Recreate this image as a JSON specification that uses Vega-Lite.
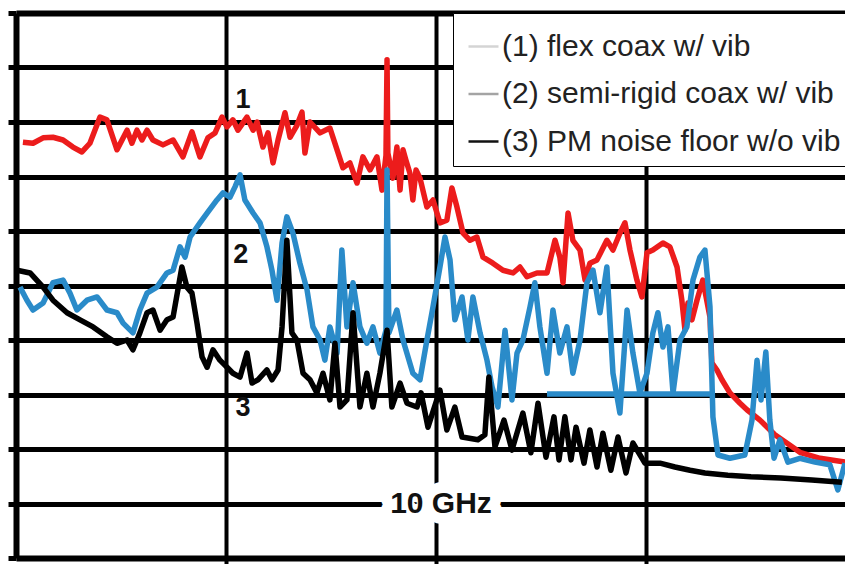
{
  "$schema": "https://vega.github.io/schema/vega-lite/v6.json",
  "width": 829,
  "height": 545,
  "autosize": "none",
  "padding": {"left": 16, "top": 13, "right": 0, "bottom": 6},
  "background": "white",
  "config": {"view": {"stroke": null}, "font": "Liberation Sans"},
  "datasets": {
    "curves": [
      {"s":"1","x":0.033,"y":-103.7},{"s":"1","x":0.081,"y":-103.9},{"s":"1","x":0.129,"y":-102.9},{"s":"1","x":0.176,"y":-102.8},{"s":"1","x":0.224,"y":-103.3},{"s":"1","x":0.271,"y":-104.6},{"s":"1","x":0.314,"y":-105.5},{"s":"1","x":0.352,"y":-103.9},{"s":"1","x":0.400,"y":-99.1},{"s":"1","x":0.433,"y":-99.6},{"s":"1","x":0.481,"y":-105.1},{"s":"1","x":0.529,"y":-101.5},{"s":"1","x":0.552,"y":-103.9},{"s":"1","x":0.576,"y":-101.5},{"s":"1","x":0.600,"y":-103.3},{"s":"1","x":0.624,"y":-101.5},{"s":"1","x":0.652,"y":-103.3},{"s":"1","x":0.700,"y":-104.2},{"s":"1","x":0.748,"y":-103.3},{"s":"1","x":0.795,"y":-106.4},{"s":"1","x":0.838,"y":-101.8},{"s":"1","x":0.876,"y":-106.4},{"s":"1","x":0.914,"y":-102.9},{"s":"1","x":0.948,"y":-102.0},{"s":"1","x":0.981,"y":-99.1},{"s":"1","x":1.005,"y":-100.9},{"s":"1","x":1.033,"y":-99.6},{"s":"1","x":1.057,"y":-101.5},{"s":"1","x":1.100,"y":-99.1},{"s":"1","x":1.129,"y":-101.5},{"s":"1","x":1.148,"y":-100.0},{"s":"1","x":1.176,"y":-104.6},{"s":"1","x":1.200,"y":-102.0},{"s":"1","x":1.224,"y":-107.5},{"s":"1","x":1.248,"y":-103.3},{"s":"1","x":1.281,"y":-98.3},{"s":"1","x":1.305,"y":-102.8},{"s":"1","x":1.338,"y":-100.6},{"s":"1","x":1.362,"y":-98.2},{"s":"1","x":1.376,"y":-105.7},{"s":"1","x":1.400,"y":-100.0},{"s":"1","x":1.448,"y":-102.0},{"s":"1","x":1.495,"y":-101.1},{"s":"1","x":1.529,"y":-105.1},{"s":"1","x":1.557,"y":-108.4},{"s":"1","x":1.590,"y":-107.5},{"s":"1","x":1.624,"y":-111.2},{"s":"1","x":1.652,"y":-106.4},{"s":"1","x":1.686,"y":-108.8},{"s":"1","x":1.719,"y":-106.4},{"s":"1","x":1.743,"y":-112.5},{"s":"1","x":1.762,"y":-106.1},{"s":"1","x":1.767,"y":-88.6},{"s":"1","x":1.771,"y":-105.7},{"s":"1","x":1.795,"y":-110.3},{"s":"1","x":1.814,"y":-104.6},{"s":"1","x":1.829,"y":-112.5},{"s":"1","x":1.843,"y":-105.1},{"s":"1","x":1.857,"y":-107.0},{"s":"1","x":1.876,"y":-109.4},{"s":"1","x":1.890,"y":-114.3},{"s":"1","x":1.905,"y":-108.8},{"s":"1","x":1.924,"y":-110.3},{"s":"1","x":1.957,"y":-115.6},{"s":"1","x":1.986,"y":-114.3},{"s":"1","x":2.019,"y":-118.5},{"s":"1","x":2.052,"y":-118.0},{"s":"1","x":2.076,"y":-112.1},{"s":"1","x":2.100,"y":-115.6},{"s":"1","x":2.129,"y":-120.4},{"s":"1","x":2.162,"y":-121.7},{"s":"1","x":2.195,"y":-121.1},{"s":"1","x":2.224,"y":-124.8},{"s":"1","x":2.271,"y":-125.9},{"s":"1","x":2.319,"y":-127.2},{"s":"1","x":2.367,"y":-127.7},{"s":"1","x":2.400,"y":-126.6},{"s":"1","x":2.433,"y":-128.4},{"s":"1","x":2.481,"y":-127.7},{"s":"1","x":2.529,"y":-127.7},{"s":"1","x":2.567,"y":-121.7},{"s":"1","x":2.590,"y":-124.8},{"s":"1","x":2.605,"y":-129.5},{"s":"1","x":2.629,"y":-116.7},{"s":"1","x":2.652,"y":-121.7},{"s":"1","x":2.686,"y":-123.5},{"s":"1","x":2.710,"y":-129.0},{"s":"1","x":2.733,"y":-125.9},{"s":"1","x":2.767,"y":-125.3},{"s":"1","x":2.814,"y":-121.7},{"s":"1","x":2.843,"y":-123.5},{"s":"1","x":2.876,"y":-120.4},{"s":"1","x":2.900,"y":-118.5},{"s":"1","x":2.924,"y":-123.5},{"s":"1","x":2.957,"y":-129.0},{"s":"1","x":2.981,"y":-132.1},{"s":"1","x":3.005,"y":-124.0},{"s":"1","x":3.033,"y":-123.5},{"s":"1","x":3.081,"y":-122.2},{"s":"1","x":3.114,"y":-122.9},{"s":"1","x":3.148,"y":-126.6},{"s":"1","x":3.171,"y":-132.7},{"s":"1","x":3.186,"y":-138.2},{"s":"1","x":3.200,"y":-133.2},{"s":"1","x":3.219,"y":-136.3},{"s":"1","x":3.243,"y":-132.7},{"s":"1","x":3.271,"y":-129.0},{"s":"1","x":3.305,"y":-135.8},{"s":"1","x":3.314,"y":-144.2},{"s":"1","x":3.338,"y":-145.5},{"s":"1","x":3.362,"y":-147.3},{"s":"1","x":3.400,"y":-149.7},{"s":"1","x":3.448,"y":-151.6},{"s":"1","x":3.481,"y":-152.8},{"s":"1","x":3.543,"y":-154.7},{"s":"1","x":3.614,"y":-157.4},{"s":"1","x":3.686,"y":-159.3},{"s":"1","x":3.733,"y":-160.6},{"s":"1","x":3.829,"y":-161.7},{"s":"1","x":3.948,"y":-162.4},
      {"s":"2","x":0.019,"y":-130.3},{"s":"2","x":0.052,"y":-132.7},{"s":"2","x":0.081,"y":-134.5},{"s":"2","x":0.129,"y":-133.2},{"s":"2","x":0.176,"y":-129.5},{"s":"2","x":0.224,"y":-129.0},{"s":"2","x":0.257,"y":-131.4},{"s":"2","x":0.290,"y":-134.5},{"s":"2","x":0.338,"y":-132.7},{"s":"2","x":0.386,"y":-132.1},{"s":"2","x":0.433,"y":-134.5},{"s":"2","x":0.481,"y":-135.0},{"s":"2","x":0.510,"y":-136.9},{"s":"2","x":0.557,"y":-138.7},{"s":"2","x":0.590,"y":-134.5},{"s":"2","x":0.624,"y":-131.4},{"s":"2","x":0.671,"y":-130.3},{"s":"2","x":0.719,"y":-127.7},{"s":"2","x":0.748,"y":-127.2},{"s":"2","x":0.781,"y":-122.9},{"s":"2","x":0.805,"y":-124.8},{"s":"2","x":0.829,"y":-121.1},{"s":"2","x":0.876,"y":-118.5},{"s":"2","x":0.910,"y":-116.7},{"s":"2","x":0.957,"y":-114.3},{"s":"2","x":0.986,"y":-113.0},{"s":"2","x":1.019,"y":-113.8},{"s":"2","x":1.043,"y":-111.9},{"s":"2","x":1.067,"y":-109.7},{"s":"2","x":1.090,"y":-114.3},{"s":"2","x":1.129,"y":-116.7},{"s":"2","x":1.162,"y":-118.5},{"s":"2","x":1.195,"y":-122.9},{"s":"2","x":1.219,"y":-127.2},{"s":"2","x":1.243,"y":-132.7},{"s":"2","x":1.267,"y":-122.2},{"s":"2","x":1.290,"y":-117.4},{"s":"2","x":1.319,"y":-120.4},{"s":"2","x":1.352,"y":-125.9},{"s":"2","x":1.386,"y":-130.8},{"s":"2","x":1.414,"y":-137.6},{"s":"2","x":1.448,"y":-140.0},{"s":"2","x":1.471,"y":-143.7},{"s":"2","x":1.495,"y":-137.6},{"s":"2","x":1.529,"y":-142.4},{"s":"2","x":1.552,"y":-123.5},{"s":"2","x":1.576,"y":-137.6},{"s":"2","x":1.605,"y":-129.5},{"s":"2","x":1.638,"y":-137.6},{"s":"2","x":1.671,"y":-140.6},{"s":"2","x":1.700,"y":-137.6},{"s":"2","x":1.733,"y":-142.4},{"s":"2","x":1.762,"y":-138.2},{"s":"2","x":1.767,"y":-108.8},{"s":"2","x":1.776,"y":-138.7},{"s":"2","x":1.814,"y":-134.5},{"s":"2","x":1.843,"y":-140.0},{"s":"2","x":1.890,"y":-146.1},{"s":"2","x":1.924,"y":-147.3},{"s":"2","x":1.957,"y":-140.0},{"s":"2","x":1.986,"y":-133.9},{"s":"2","x":2.019,"y":-126.6},{"s":"2","x":2.043,"y":-121.1},{"s":"2","x":2.067,"y":-125.3},{"s":"2","x":2.090,"y":-136.3},{"s":"2","x":2.124,"y":-132.1},{"s":"2","x":2.152,"y":-140.0},{"s":"2","x":2.176,"y":-132.1},{"s":"2","x":2.210,"y":-138.7},{"s":"2","x":2.243,"y":-143.7},{"s":"2","x":2.267,"y":-148.6},{"s":"2","x":2.295,"y":-152.3},{"s":"2","x":2.329,"y":-138.2},{"s":"2","x":2.362,"y":-151.0},{"s":"2","x":2.386,"y":-142.4},{"s":"2","x":2.414,"y":-140.0},{"s":"2","x":2.448,"y":-133.9},{"s":"2","x":2.471,"y":-129.5},{"s":"2","x":2.495,"y":-137.6},{"s":"2","x":2.529,"y":-146.1},{"s":"2","x":2.557,"y":-134.5},{"s":"2","x":2.590,"y":-142.4},{"s":"2","x":2.624,"y":-137.6},{"s":"2","x":2.652,"y":-146.1},{"s":"2","x":2.686,"y":-140.0},{"s":"2","x":2.719,"y":-129.5},{"s":"2","x":2.748,"y":-127.2},{"s":"2","x":2.781,"y":-135.0},{"s":"2","x":2.814,"y":-126.6},{"s":"2","x":2.843,"y":-146.1},{"s":"2","x":2.876,"y":-153.4},{"s":"2","x":2.910,"y":-134.5},{"s":"2","x":2.938,"y":-142.4},{"s":"2","x":2.971,"y":-149.7},{"s":"2","x":3.005,"y":-146.1},{"s":"2","x":3.033,"y":-138.7},{"s":"2","x":3.057,"y":-135.0},{"s":"2","x":3.081,"y":-141.3},{"s":"2","x":3.105,"y":-137.6},{"s":"2","x":3.129,"y":-149.7},{"s":"2","x":3.162,"y":-140.0},{"s":"2","x":3.195,"y":-137.6},{"s":"2","x":3.224,"y":-129.0},{"s":"2","x":3.257,"y":-124.8},{"s":"2","x":3.281,"y":-123.5},{"s":"2","x":3.305,"y":-133.9},{"s":"2","x":3.319,"y":-154.1},{"s":"2","x":3.343,"y":-161.1},{"s":"2","x":3.400,"y":-161.7},{"s":"2","x":3.471,"y":-161.1},{"s":"2","x":3.505,"y":-154.7},{"s":"2","x":3.529,"y":-143.7},{"s":"2","x":3.548,"y":-151.0},{"s":"2","x":3.571,"y":-142.2},{"s":"2","x":3.590,"y":-154.7},{"s":"2","x":3.610,"y":-161.7},{"s":"2","x":3.638,"y":-158.3},{"s":"2","x":3.676,"y":-162.4},{"s":"2","x":3.733,"y":-161.7},{"s":"2","x":3.805,"y":-162.4},{"s":"2","x":3.876,"y":-162.9},{"s":"2","x":3.914,"y":-167.5},{"s":"2","x":3.948,"y":-162.6},
      {"s":"2","p":"floor","x":2.529,"y":-149.9},{"s":"2","p":"floor","x":3.319,"y":-149.9},
      {"s":"3","x":0.005,"y":-127.2},{"s":"3","x":0.067,"y":-127.7},{"s":"3","x":0.129,"y":-130.3},{"s":"3","x":0.176,"y":-132.7},{"s":"3","x":0.243,"y":-135.0},{"s":"3","x":0.305,"y":-136.3},{"s":"3","x":0.367,"y":-137.6},{"s":"3","x":0.433,"y":-139.4},{"s":"3","x":0.481,"y":-140.6},{"s":"3","x":0.529,"y":-140.0},{"s":"3","x":0.557,"y":-141.8},{"s":"3","x":0.590,"y":-138.7},{"s":"3","x":0.624,"y":-135.0},{"s":"3","x":0.652,"y":-134.5},{"s":"3","x":0.686,"y":-138.2},{"s":"3","x":0.719,"y":-136.3},{"s":"3","x":0.748,"y":-135.8},{"s":"3","x":0.790,"y":-126.6},{"s":"3","x":0.814,"y":-130.3},{"s":"3","x":0.838,"y":-131.4},{"s":"3","x":0.862,"y":-136.9},{"s":"3","x":0.886,"y":-143.1},{"s":"3","x":0.910,"y":-145.0},{"s":"3","x":0.938,"y":-141.8},{"s":"3","x":0.971,"y":-143.7},{"s":"3","x":1.005,"y":-145.0},{"s":"3","x":1.033,"y":-146.1},{"s":"3","x":1.067,"y":-146.8},{"s":"3","x":1.100,"y":-142.4},{"s":"3","x":1.124,"y":-147.9},{"s":"3","x":1.152,"y":-147.3},{"s":"3","x":1.195,"y":-145.5},{"s":"3","x":1.219,"y":-147.3},{"s":"3","x":1.248,"y":-145.5},{"s":"3","x":1.267,"y":-137.6},{"s":"3","x":1.290,"y":-121.7},{"s":"3","x":1.314,"y":-138.7},{"s":"3","x":1.338,"y":-140.0},{"s":"3","x":1.367,"y":-146.1},{"s":"3","x":1.400,"y":-147.3},{"s":"3","x":1.433,"y":-149.7},{"s":"3","x":1.462,"y":-146.1},{"s":"3","x":1.495,"y":-151.0},{"s":"3","x":1.519,"y":-140.6},{"s":"3","x":1.543,"y":-152.3},{"s":"3","x":1.576,"y":-151.0},{"s":"3","x":1.605,"y":-135.0},{"s":"3","x":1.638,"y":-152.3},{"s":"3","x":1.671,"y":-146.1},{"s":"3","x":1.700,"y":-152.3},{"s":"3","x":1.733,"y":-146.1},{"s":"3","x":1.767,"y":-138.2},{"s":"3","x":1.790,"y":-152.3},{"s":"3","x":1.829,"y":-147.9},{"s":"3","x":1.862,"y":-151.6},{"s":"3","x":1.910,"y":-152.3},{"s":"3","x":1.929,"y":-149.7},{"s":"3","x":1.962,"y":-156.0},{"s":"3","x":2.019,"y":-149.2},{"s":"3","x":2.052,"y":-156.5},{"s":"3","x":2.090,"y":-152.3},{"s":"3","x":2.124,"y":-157.8},{"s":"3","x":2.200,"y":-158.3},{"s":"3","x":2.233,"y":-157.4},{"s":"3","x":2.252,"y":-146.8},{"s":"3","x":2.281,"y":-159.6},{"s":"3","x":2.324,"y":-154.7},{"s":"3","x":2.362,"y":-160.2},{"s":"3","x":2.414,"y":-153.4},{"s":"3","x":2.452,"y":-160.7},{"s":"3","x":2.486,"y":-151.6},{"s":"3","x":2.524,"y":-161.5},{"s":"3","x":2.562,"y":-154.1},{"s":"3","x":2.586,"y":-162.0},{"s":"3","x":2.614,"y":-154.1},{"s":"3","x":2.643,"y":-162.0},{"s":"3","x":2.667,"y":-156.0},{"s":"3","x":2.705,"y":-162.6},{"s":"3","x":2.733,"y":-156.5},{"s":"3","x":2.767,"y":-163.3},{"s":"3","x":2.795,"y":-157.1},{"s":"3","x":2.833,"y":-163.9},{"s":"3","x":2.867,"y":-157.8},{"s":"3","x":2.905,"y":-164.4},{"s":"3","x":2.938,"y":-158.9},{"s":"3","x":2.995,"y":-162.6},{"s":"3","x":3.067,"y":-162.6},{"s":"3","x":3.138,"y":-163.3},{"s":"3","x":3.210,"y":-163.9},{"s":"3","x":3.281,"y":-164.4},{"s":"3","x":3.390,"y":-164.8},{"s":"3","x":3.500,"y":-165.1},{"s":"3","x":3.643,"y":-165.3},{"s":"3","x":3.790,"y":-165.7},{"s":"3","x":3.933,"y":-166.1}
    ],
    "digits": [
      {"x": 1.081, "y": -96.0, "t": "1"},
      {"x": 1.071, "y": -124.4, "t": "2"},
      {"x": 1.081, "y": -152.5, "t": "3"}
    ],
    "carrier": [
      {"x": 2.024, "y": -170.1, "t": "10 GHz"}
    ]
  },
  "layer": [
    {
      "data": {"name": "curves"},
      "mark": {"type": "line", "strokeWidth": 2, "strokeJoin": "round", "clip": true},
      "encoding": {
        "x": {
          "field": "x", "type": "quantitative",
          "scale": {"domain": [0, 3.948], "nice": false, "zero": false},
          "axis": {"values": [1, 2, 3], "grid": true, "gridColor": "black", "gridWidth": 4, "gridOpacity": 1, "labels": false, "ticks": true, "tickSize": 6, "tickWidth": 4, "tickColor": "black", "domain": false, "title": null}
        },
        "y": {
          "field": "y", "type": "quantitative",
          "scale": {"domain": [-180, -80], "nice": false, "zero": false},
          "axis": {
            "values": [-180, -170, -160, -150, -140, -130, -120, -110, -100, -90, -80],
            "grid": true, "gridColor": "black", "gridOpacity": 1,
            "gridWidth": {"condition": {"test": "datum.value == -80 || datum.value == -180", "value": 6}, "value": 5},
            "ticks": true, "tickSize": 8, "tickWidth": 5, "tickColor": "black",
            "domain": true, "domainColor": "black", "domainWidth": 6,
            "labels": false, "title": null
          }
        },
        "detail": {"field": "p"},
        "color": {
          "field": "s", "type": "nominal",
          "scale": {"domain": ["1", "2", "3"], "range": ["#d4d4d4", "#a4a4a4", "#111111"]},
          "legend": {
            "orient": "none", "legendX": 437, "legendY": 0, "direction": "vertical",
            "title": " ", "titleFontSize": 4, "titlePadding": 4,
            "fillColor": "white", "strokeColor": "black",
            "padding": 9, "symbolType": "stroke", "symbolSize": 900, "symbolStrokeWidth": 2.5,
            "symbolOffset": 5,
            "labelFont": "Liberation Sans", "labelFontSize": 30, "labelColor": "#222222", "labelOffset": 2, "labelLimit": 600,
            "rowPadding": 15.5,
            "labelExpr": "datum.label == '1' ? '(1) flex coax w/ vib' : datum.label == '2' ? '(2) semi-rigid coax w/ vib' : '(3) PM noise floor w/o vib'"
          }
        }
      }
    },
    {
      "data": {"name": "curves"},
      "mark": {"type": "line", "strokeWidth": 5.5, "strokeJoin": "round", "clip": true},
      "encoding": {
        "x": {"field": "x", "type": "quantitative"},
        "y": {"field": "y", "type": "quantitative"},
        "detail": {"field": "p"},
        "stroke": {
          "field": "s", "type": "nominal",
          "scale": {"domain": ["1", "2", "3"], "range": ["#ec1c1c", "#2a8bc9", "#000000"]},
          "legend": null
        }
      }
    },
    {
      "data": {"name": "digits"},
      "mark": {"type": "text", "font": "Liberation Sans", "fontWeight": "bold", "fontSize": 27, "align": "center", "baseline": "middle", "color": "#111111"},
      "encoding": {
        "x": {"field": "x", "type": "quantitative"},
        "y": {"field": "y", "type": "quantitative"},
        "text": {"field": "t"}
      }
    },
    {
      "data": {"name": "carrier"},
      "mark": {"type": "text", "font": "Liberation Sans", "fontWeight": "bold", "fontSize": 30, "align": "center", "baseline": "middle", "color": "white", "stroke": "white", "strokeWidth": 22, "strokeJoin": "round"},
      "encoding": {
        "x": {"field": "x", "type": "quantitative"},
        "y": {"field": "y", "type": "quantitative"},
        "text": {"field": "t"}
      }
    },
    {
      "data": {"name": "carrier"},
      "mark": {"type": "text", "font": "Liberation Sans", "fontWeight": "bold", "fontSize": 30, "align": "center", "baseline": "middle", "color": "#111111"},
      "encoding": {
        "x": {"field": "x", "type": "quantitative"},
        "y": {"field": "y", "type": "quantitative"},
        "text": {"field": "t"}
      }
    }
  ]
}
